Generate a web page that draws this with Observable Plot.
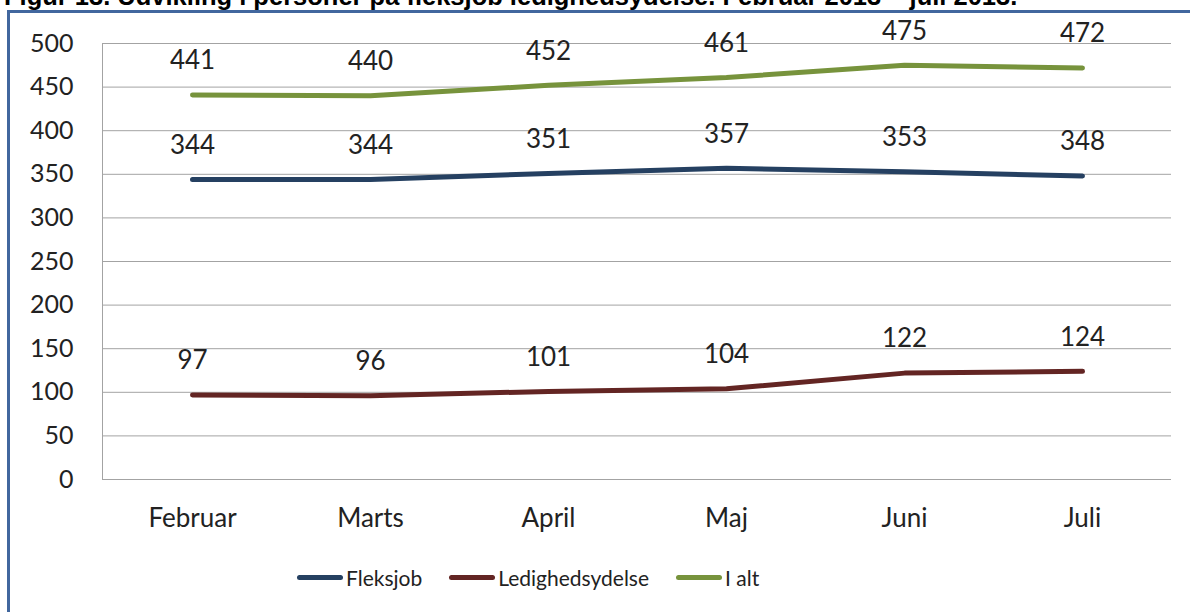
<!DOCTYPE html>
<html>
<head>
<meta charset="utf-8">
<script src="https://cdn.jsdelivr.net/npm/d3@7"></script>
<script src="https://cdn.jsdelivr.net/npm/@observablehq/plot@0.6"></script>
<style>
  html, body { margin: 0; padding: 0; background: #fff; width: 1190px; height: 612px; overflow: hidden; }
  #title { position: absolute; left: 4px; top: -16px; font: bold 25.5px/25px "Liberation Sans", Arial, sans-serif; color: #000; white-space: nowrap; }
  #frame { position: absolute; left: 7px; top: 10px; width: 1300px; height: 700px; border-left: 3px solid #41679E; border-top: 3px solid #41679E; z-index: 5; pointer-events: none; }
  #chart { position: absolute; left: 0; top: 0; }
  #legend { position: absolute; left: 297px; top: 565px; display: flex; align-items: center; font: 21px Lato, sans-serif; color: #222; }
  .item { display: flex; align-items: center; margin-right: 27px; }
  .sw { width: 46px; height: 5px; border-radius: 3px; margin-right: 3px; }
</style>
</head>
<body>
<div id="title">Figur 13. Udvikling i personer på fleksjob ledighedsydelse. Februar 2013 – juli 2013.</div>
<div id="frame"></div>
<div id="chart"></div>
<div id="legend"></div>
<script>
const months = ["Februar", "Marts", "April", "Maj", "Juni", "Juli"];
const fleksjob = [344, 344, 351, 357, 353, 348];
const ledighedsydelse = [97, 96, 101, 104, 122, 124];
const iAlt = [441, 440, 452, 461, 475, 472];
const seriesNames = ["Fleksjob", "Ledighedsydelse", "I alt"];
const seriesColors = ["#254061", "#632523", "#77933C"];
const yTicks = [0, 50, 100, 150, 200, 250, 300, 350, 400, 450, 500];

const seriesValues = [fleksjob, ledighedsydelse, iAlt];
const data = [];
seriesNames.forEach((s, i) => months.forEach((m, j) => data.push({series: s, month: m, value: seriesValues[i][j]})));

const chart = Plot.plot({
  width: 1190,
  height: 545,
  marginLeft: 102,
  marginRight: 19,
  marginTop: 43,
  marginBottom: 66,
  style: {fontFamily: "Lato, sans-serif", fontSize: "25px", color: "#222", background: "transparent"},
  x: {type: "point", domain: months, padding: 0.5},
  y: {domain: [0, 500]},
  color: {domain: seriesNames, range: seriesColors},
  marks: [
    Plot.gridY(yTicks, {stroke: "#a3a3a3", strokeOpacity: 1}),
    Plot.ruleY([0], {stroke: "#a3a3a3"}),
    Plot.frame({anchor: "left", stroke: "#a3a3a3"}),
    Plot.axisY(yTicks, {tickSize: 0, tickPadding: 29, fontSize: 25, label: null}),
    Plot.axisX({tickSize: 0, tickPadding: 29.5, fontSize: 26, label: null}),
    Plot.line(data, {x: "month", y: "value", z: "series", stroke: "series", strokeWidth: 5, strokeLinecap: "round", strokeLinejoin: "round"}),
    Plot.text(data, {x: "month", y: "value", text: "value", dy: -34, fontSize: 26, fill: "#222"})
  ]
});
document.getElementById("chart").appendChild(chart);

const legend = document.getElementById("legend");
seriesNames.forEach((s, i) => {
  const item = document.createElement("div");
  item.className = "item";
  const sw = document.createElement("span");
  sw.className = "sw";
  sw.style.background = seriesColors[i];
  const t = document.createElement("span");
  t.textContent = s;
  item.appendChild(sw);
  item.appendChild(t);
  legend.appendChild(item);
});
</script>
</body>
</html>
